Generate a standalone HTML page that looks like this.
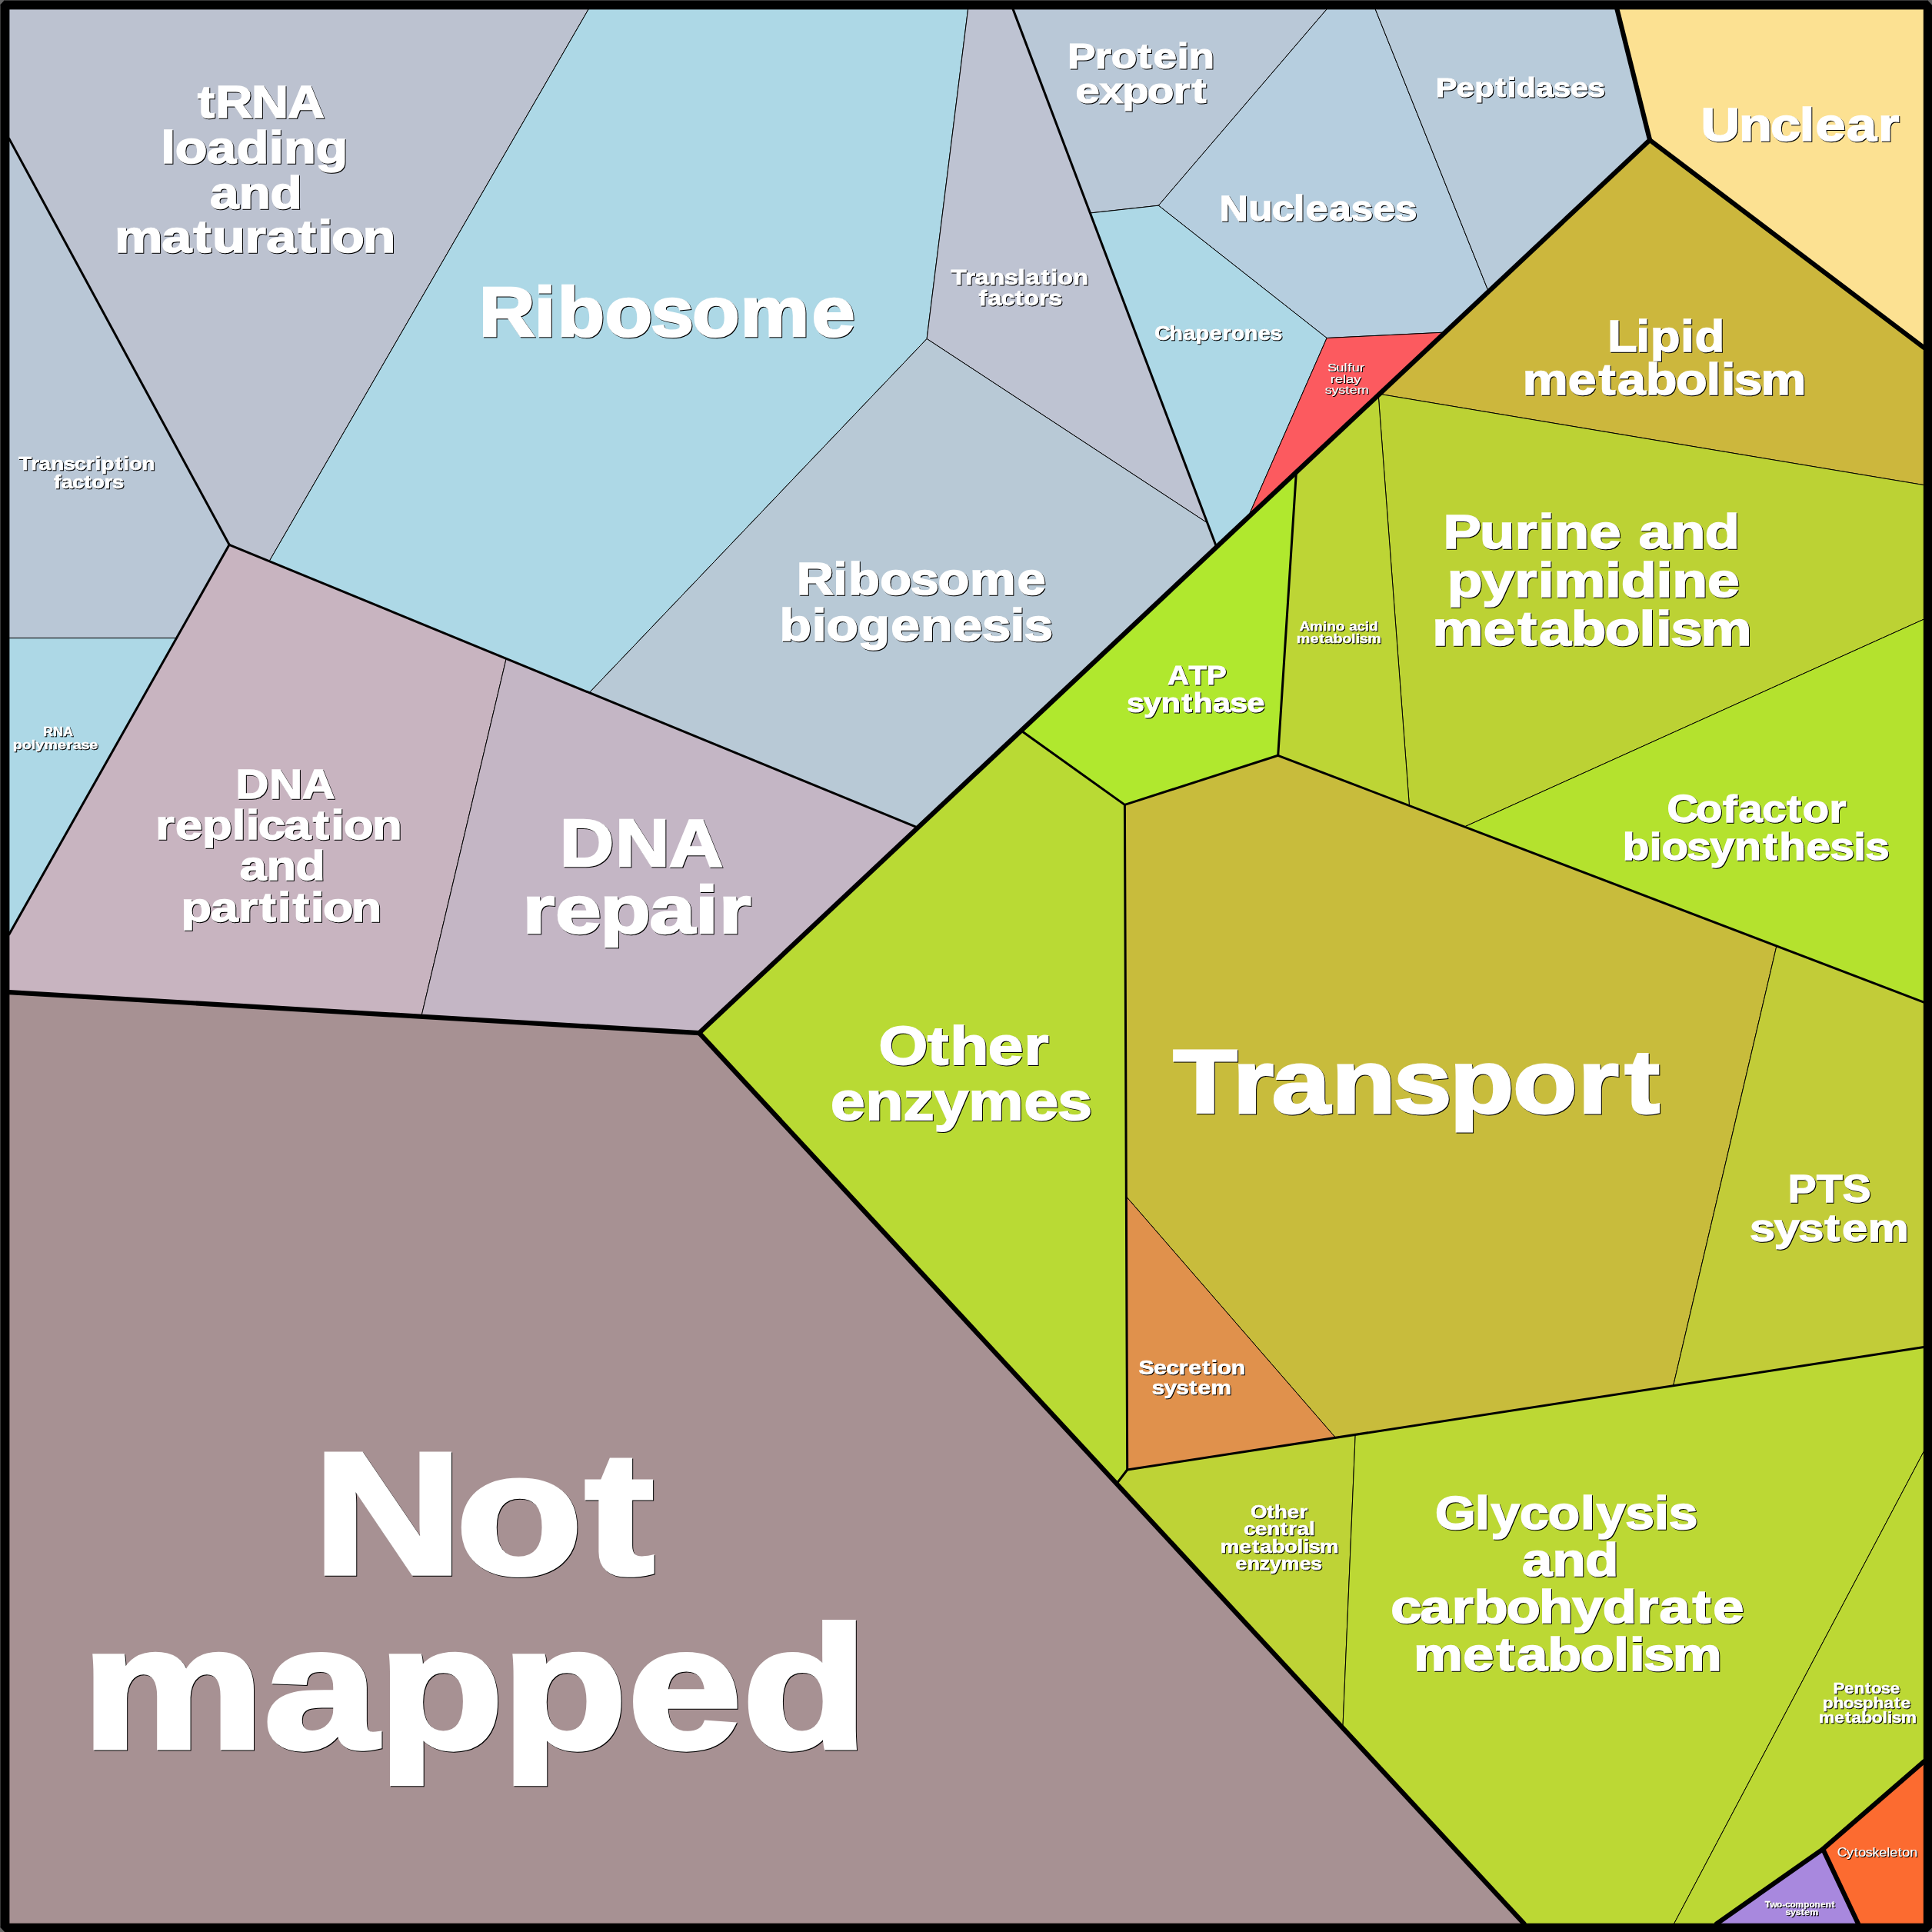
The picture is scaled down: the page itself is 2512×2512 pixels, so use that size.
<!DOCTYPE html>
<html><head><meta charset="utf-8"><title>Proteomap</title>
<style>
html,body{margin:0;padding:0;background:#000;}
body{width:2512px;height:2512px;overflow:hidden;}
svg{display:block;}
text{font-family:"Liberation Sans",sans-serif;font-weight:bold;fill:#fff;stroke:#fff;vector-effect:non-scaling-stroke;stroke-linejoin:miter;}
.cells polygon{stroke:#000;stroke-width:1.00;stroke-linejoin:round;}
.med polyline{fill:none;stroke:#000;stroke-width:3.00;stroke-linecap:round;stroke-linejoin:round;}
.thick polyline{fill:none;stroke:#000;stroke-width:6.20;stroke-linecap:round;stroke-linejoin:round;}
</style></head><body>
<svg width="2512" height="2512" viewBox="0 0 2512 2512">
<rect x="0" y="0" width="2512" height="2512" fill="#000"/>
<g class="cells">
<polygon fill="#BCC2D0" points="11.9,11.9 765.2,11.9 350.1,729.7 298.1,708.3 11.9,180.4"/>
<polygon fill="#B9C7D6" points="11.9,180.4 298.1,708.3 229.6,829.6 11.9,829.6"/>
<polygon fill="#ADD8E6" points="11.9,829.6 229.6,829.6 11.9,1214.8"/>
<polygon fill="#ADD8E6" points="765.2,11.9 1258.6,11.9 1205.1,440.5 766.2,900.7 350.1,729.7"/>
<polygon fill="#BEC3D2" points="1258.6,11.9 1317.1,11.9 1569.9,680.0 1205.1,440.5"/>
<polygon fill="#B8C9D6" points="1205.1,440.5 1569.9,680.0 1581.7,711.3 1193.3,1076.2 766.2,900.7"/>
<polygon fill="#B9C8D7" points="1317.1,11.9 1725.1,11.9 1506.3,267.2 1417.4,277.0"/>
<polygon fill="#B6CEDF" points="1725.1,11.9 1788.2,11.9 1935.4,379.1 1879.0,432.1 1725.1,439.5 1506.3,267.2"/>
<polygon fill="#B8CBDA" points="1788.2,11.9 2102.5,11.9 2145.1,182.1 1935.4,379.1"/>
<polygon fill="#ADD8E6" points="1417.4,277.0 1506.3,267.2 1725.1,439.5 1622.5,673.0 1581.7,711.3"/>
<polygon fill="#FC5A5F" points="1725.1,439.5 1879.0,432.1 1622.5,673.0"/>
<polygon fill="#FCE192" points="2102.5,11.9 2501.3,11.9 2501.3,451.9 2145.1,182.1"/>
<polygon fill="#CCB73D" points="2145.1,182.1 2501.3,451.9 2501.3,630.6 1793.6,512.3"/>
<polygon fill="#BCD234" points="1793.6,512.3 2501.3,630.6 2501.3,805.2 1904.2,1075.0 1832.4,1047.5 1792.2,513.6"/>
<polygon fill="#BDD535" points="1685.4,613.9 1792.2,513.6 1832.4,1047.5 1661.7,982.3"/>
<polygon fill="#B0E82E" points="1685.4,613.9 1661.7,982.3 1462.4,1046.4 1327.7,950.0"/>
<polygon fill="#B4E22E" points="2501.3,805.2 2501.3,1303.1 1904.2,1075.0"/>
<polygon fill="#B9DA34" points="1327.7,950.0 1462.4,1046.4 1465.7,1911.0 1451.8,1929.1 909.2,1343.1"/>
<polygon fill="#C8BC3C" points="1462.4,1046.4 1661.7,982.3 2309.9,1230.0 2175.6,1801.7 1736.5,1869.3 1464.3,1555.7"/>
<polygon fill="#C2CC38" points="2309.9,1230.0 2501.3,1303.1 2501.3,1751.6 2175.6,1801.7"/>
<polygon fill="#E0914C" points="1464.3,1555.7 1736.5,1869.3 1465.7,1911.0"/>
<polygon fill="#BED336" points="1451.8,1929.1 1465.7,1911.0 1762.2,1865.4 1745.9,2246.7"/>
<polygon fill="#BCD834" points="1762.2,1865.4 2501.3,1751.6 2501.3,1887.3 2176.6,2501.2 1981.5,2501.2 1745.9,2246.7"/>
<polygon fill="#BCD834" points="2501.3,1887.3 2501.3,2290.5 2370.2,2404.2 2232.0,2501.2 2176.6,2501.2"/>
<polygon fill="#FC6B30" points="2501.3,2290.5 2501.3,2501.2 2416.0,2501.2 2370.2,2404.2"/>
<polygon fill="#A888DE" points="2370.2,2404.2 2416.0,2501.2 2232.0,2501.2"/>
<polygon fill="#C8B4C0" points="298.1,708.3 658.2,856.3 547.8,1321.8 11.9,1290.1 11.9,1214.8"/>
<polygon fill="#C4B6C5" points="658.2,856.3 1193.3,1076.2 909.2,1343.1 547.8,1321.8"/>
<polygon fill="#A79193" points="11.9,1290.1 909.2,1343.1 1981.5,2501.2 11.9,2501.2"/>
</g>
<g class="med">
<polyline points="11.9,180.4 298.1,708.3"/>
<polyline points="298.1,708.3 1193.3,1076.2"/>
<polyline points="298.1,708.3 11.9,1214.8"/>
<polyline points="1317.1,11.9 1581.7,711.3"/>
<polyline points="1685.4,613.9 1661.7,982.3"/>
<polyline points="1661.7,982.3 2501.3,1303.1"/>
<polyline points="1661.7,982.3 1462.4,1046.4"/>
<polyline points="1462.4,1046.4 1327.7,950.0"/>
<polyline points="1462.4,1046.4 1465.7,1911.0"/>
<polyline points="1465.7,1911.0 1451.8,1929.1"/>
<polyline points="1465.7,1911.0 2501.3,1751.6"/>
</g>
<g class="thick">
<polyline points="11.9,1290.1 909.2,1343.1"/>
<polyline points="909.2,1343.1 2145.1,182.1 2102.5,11.9"/>
<polyline points="2145.1,182.1 2501.3,451.9"/>
<polyline points="909.2,1343.1 1981.5,2501.2"/>
<polyline points="2501.3,2290.5 2370.2,2404.2 2232.0,2501.2"/>
<polyline points="2370.2,2404.2 2416.0,2501.2"/>
</g>
<path fill="#000" fill-rule="evenodd" d="M0 0H2512 V2512 H0Z M11.9 11.9 V2501.2 H2501.3 V11.9Z"/>
<path fill="#666" d="M0 0H6L0 6.5Z M2512 0h-6l6 6.5Z M0 2512h6l-6 -6.5Z M2512 2512h-5.5l5.5 -5.5Z"/>
<path fill="#383838" d="M6 0H2506V1H6Z M0 6.5H1V2505.5H0Z"/>
<g style="filter:drop-shadow(1.2px 1.2px 0 #000)">
<text transform="scale(1.1289,1)" x="227.62 248.31 289.70 331.20" y="153.5" font-size="58.9" style="stroke-width:1.74">tRNA</text>
<text transform="scale(1.1617,1)" x="180.10 196.02 231.67 264.82 301.09 317.64 353.33" y="212.1" font-size="58.9" style="stroke-width:1.74">loading</text>
<text transform="scale(1.1443,1)" x="238.63 271.57 307.14" y="270.6" font-size="58.9" style="stroke-width:1.74">and</text>
<text transform="scale(1.1934,1)" x="124.82 176.16 210.62 231.21 266.89 290.22 324.68 346.16 361.25 395.09" y="328.4" font-size="58.9" style="stroke-width:1.74">maturation</text>
<text transform="scale(1.1353,1)" x="21.47 35.37 44.45 58.36 72.77 85.26 98.71 108.85 115.92 131.85 141.15 147.92 162.62" y="611.4" font-size="24.4" style="stroke-width:0.72">Transcription</text>
<text transform="scale(1.1188,1)" x="62.54 71.23 84.25 97.98 106.56 121.39 130.54" y="635.5" font-size="24.4" style="stroke-width:0.72">factors</text>
<text transform="scale(1.0509,1)" x="53.47 65.80 78.16" y="957.1" font-size="16.9" style="stroke-width:0.50">RNA</text>
<text transform="scale(1.1787,1)" x="14.30 24.33 34.49 39.26 48.55 63.65 73.43 80.37 89.45 98.55" y="974.0" font-size="16.9" style="stroke-width:0.50">polymerase</text>
<text transform="scale(1.1111,1)" x="560.46 624.99 652.01 707.89 761.44 810.03 866.24 949.90" y="437.0" font-size="90.9" style="stroke-width:2.69">Ribosome</text>
<text transform="scale(1.1663,1)" x="1060.18 1076.27 1086.77 1102.85 1119.51 1134.86 1143.28 1160.46 1171.21 1179.01 1196.01" y="369.8" font-size="28.3" style="stroke-width:0.84">Translation</text>
<text transform="scale(1.1474,1)" x="1109.12 1119.22 1134.36 1150.32 1160.30 1177.54 1188.17" y="397.3" font-size="28.3" style="stroke-width:0.84">factors</text>
<text transform="scale(1.1371,1)" x="910.79 952.60 970.11 1006.32 1041.03 1072.51 1108.94 1163.15" y="773.4" font-size="58.9" style="stroke-width:1.74">Ribosome</text>
<text transform="scale(1.1513,1)" x="880.36 917.05 933.38 968.99 1005.99 1039.66 1076.56 1108.89 1140.90 1156.51" y="833.5" font-size="58.9" style="stroke-width:1.74">biogenesis</text>
<text transform="scale(1.1879,1)" x="1168.44 1198.53 1216.20 1245.11 1262.28 1288.42 1301.09" y="88.7" font-size="46.2" style="stroke-width:1.36">Protein</text>
<text transform="scale(1.2173,1)" x="1148.79 1174.07 1198.81 1225.61 1253.28 1273.14" y="134.2" font-size="46.2" style="stroke-width:1.36">export</text>
<text transform="scale(1.1319,1)" x="1400.75 1434.00 1461.11 1486.02 1499.90 1526.72 1551.89 1577.13 1602.37" y="287.0" font-size="45.7" style="stroke-width:1.35">Nucleases</text>
<text transform="scale(1.1583,1)" x="1611.59 1635.04 1655.27 1678.40 1691.87 1702.02 1724.15 1743.47 1762.84 1782.21" y="126.1" font-size="35.8" style="stroke-width:1.06">Peptidases</text>
<text transform="scale(1.1193,1)" x="1341.23 1358.53 1374.46 1389.04 1405.05 1420.04 1430.20 1445.57 1461.53 1475.53" y="442.4" font-size="25.4" style="stroke-width:0.75">Chaperones</text>
<text transform="scale(1.2480,1)" x="1382.98 1392.00 1400.34 1404.01 1408.36 1416.75" y="483.5" font-size="14.6" style="stroke-width:0.17;font-weight:normal">Sulfur</text>
<text transform="scale(1.2763,1)" x="1355.25 1360.01 1367.98 1371.21 1379.27" y="497.7" font-size="14.6" style="stroke-width:0.17;font-weight:normal">relay</text>
<text transform="scale(1.2324,1)" x="1397.79 1404.90 1412.01 1419.47 1423.87 1432.01" y="511.8" font-size="14.6" style="stroke-width:0.17;font-weight:normal">system</text>
<text transform="scale(1.1520,1)" x="1919.82 1962.78 1998.33 2031.11 2049.14 2084.28 2119.70" y="182.8" font-size="61.0" style="stroke-width:1.80">Unclear</text>
<text transform="scale(1.1067,1)" x="1888.78 1922.43 1939.06 1974.65 1991.29" y="456.9" font-size="56.9" style="stroke-width:1.68">Lipid</text>
<text transform="scale(1.1628,1)" x="1702.66 1753.35 1787.40 1808.67 1840.43 1874.04 1908.18 1924.61 1939.16 1968.91" y="513.5" font-size="56.9" style="stroke-width:1.68">metabolism</text>
<text transform="scale(1.1653,1)" x="1610.37 1651.00 1690.44 1716.46 1734.24 1773.36 1809.80 1828.47 1864.02 1902.41" y="713.4" font-size="63.5" style="stroke-width:1.88">Purine and</text>
<text transform="scale(1.1836,1)" x="1589.95 1628.06 1663.81 1689.58 1706.99 1763.23 1780.81 1819.53 1837.01 1875.71" y="776.0" font-size="63.5" style="stroke-width:1.88">pyrimidine</text>
<text transform="scale(1.1743,1)" x="1585.82 1642.39 1680.39 1704.13 1739.58 1777.09 1815.20 1833.53 1849.78 1882.98" y="838.6" font-size="63.5" style="stroke-width:1.88">metabolism</text>
<text transform="scale(1.1187,1)" x="1510.48 1522.30 1537.51 1542.40 1552.59 1562.92 1568.03 1577.26 1586.41 1591.33" y="819.6" font-size="16.8" style="stroke-width:0.49">Amino acid</text>
<text transform="scale(1.1770,1)" x="1432.29 1447.23 1457.26 1463.53 1472.89 1482.79 1492.85 1497.69 1501.98 1510.74" y="836.5" font-size="16.8" style="stroke-width:0.49">metabolism</text>
<text transform="scale(1.0839,1)" x="1400.76 1425.96 1447.49" y="890.2" font-size="35.6" style="stroke-width:1.05">ATP</text>
<text transform="scale(1.1595,1)" x="1263.54 1282.40 1302.05 1324.98 1338.04 1359.98 1379.19 1398.45" y="925.9" font-size="35.6" style="stroke-width:1.05">synthase</text>
<text transform="scale(1.1294,1)" x="1919.26 1952.44 1983.37 2001.57 2028.70 2057.18 2075.19 2105.97" y="1069.4" font-size="49.8" style="stroke-width:1.47">Cofactor</text>
<text transform="scale(1.1367,1)" x="1855.97 1886.93 1900.69 1929.51 1956.21 1984.06 2016.45 2035.02 2066.14 2093.41 2120.43 2133.58" y="1118.2" font-size="49.8" style="stroke-width:1.47">biosynthesis</text>
<text transform="scale(1.1228,1)" x="272.90 311.99 349.75" y="1038.5" font-size="52.8" style="stroke-width:1.56">DNA</text>
<text transform="scale(1.2002,1)" x="168.50 189.91 219.20 251.33 266.44 279.71 307.65 338.95 358.50 372.40 403.24" y="1091.4" font-size="52.8" style="stroke-width:1.56">replication</text>
<text transform="scale(1.1833,1)" x="263.45 292.98 324.87" y="1144.1" font-size="52.8" style="stroke-width:1.56">and</text>
<text transform="scale(1.2250,1)" x="192.29 223.57 253.04 275.36 294.43 310.58 329.65 342.95 372.96" y="1197.7" font-size="52.8" style="stroke-width:1.56">partition</text>
<text transform="scale(1.1173,1)" x="651.32 715.96 778.42" y="1126.4" font-size="87.4" style="stroke-width:2.58">DNA</text>
<text transform="scale(1.2307,1)" x="552.03 586.59 634.02 686.10 734.62 759.63" y="1213.5" font-size="87.4" style="stroke-width:2.58">repair</text>
<text transform="scale(1.1786,1)" x="969.42 1023.28 1048.00 1090.08 1129.74" y="1384.4" font-size="69.6" style="stroke-width:2.05">Other</text>
<text transform="scale(1.1522,1)" x="937.45 976.92 1019.29 1054.06 1092.88 1155.67 1193.57" y="1455.6" font-size="69.6" style="stroke-width:2.05">enzymes</text>
<text transform="scale(1.1666,1)" x="1307.62 1374.15 1417.61 1484.15 1553.09 1615.82 1686.37 1758.68 1810.80" y="1446.8" font-size="116.8" style="stroke-width:3.45">Transport</text>
<text transform="scale(1.0861,1)" x="2140.57 2174.73 2205.75" y="1563.2" font-size="50.8" style="stroke-width:1.50">PTS</text>
<text transform="scale(1.1729,1)" x="1939.59 1966.61 1993.63 2022.56 2041.94 2070.76" y="1614.5" font-size="50.8" style="stroke-width:1.50">system</text>
<text transform="scale(1.1750,1)" x="1260.05 1276.69 1290.52 1304.48 1315.08 1330.53 1340.17 1347.10 1362.32" y="1787.1" font-size="25.7" style="stroke-width:0.76">Secretion</text>
<text transform="scale(1.1579,1)" x="1293.42 1307.09 1320.76 1335.40 1345.21 1359.79" y="1813.1" font-size="25.7" style="stroke-width:0.76">system</text>
<text transform="scale(1.1902,1)" x="1366.15 1384.08 1392.31 1406.31 1419.51" y="1973.7" font-size="23.2" style="stroke-width:0.68">Other</text>
<text transform="scale(1.2099,1)" x="1336.57 1348.73 1361.39 1375.99 1384.62 1393.86 1406.81" y="1995.9" font-size="23.2" style="stroke-width:0.68">central</text>
<text transform="scale(1.1912,1)" x="1332.16 1352.80 1366.66 1375.32 1388.25 1401.94 1415.84 1422.53 1428.45 1440.56" y="2018.6" font-size="23.2" style="stroke-width:0.68">metabolism</text>
<text transform="scale(1.1458,1)" x="1402.14 1415.28 1429.38 1440.96 1453.88 1474.78 1487.39" y="2041.4" font-size="23.2" style="stroke-width:0.68">enzymes</text>
<text transform="scale(1.0931,1)" x="1707.08 1754.65 1773.45 1807.77 1841.36 1880.07 1898.87 1933.25 1967.73 1984.97" y="1988.1" font-size="62.0" style="stroke-width:1.83">Glycolysis</text>
<text transform="scale(1.1389,1)" x="1737.74 1772.38 1809.79" y="2048.9" font-size="62.0" style="stroke-width:1.83">and</text>
<text transform="scale(1.1652,1)" x="1551.85 1584.74 1620.22 1644.71 1681.11 1717.40 1754.47 1788.26 1826.50 1851.62 1888.45 1911.53" y="2109.7" font-size="62.0" style="stroke-width:1.83">carbohydrate</text>
<text transform="scale(1.1605,1)" x="1583.91 1639.12 1676.21 1699.38 1733.98 1770.58 1807.78 1825.67 1841.52 1873.93" y="2172.4" font-size="62.0" style="stroke-width:1.83">metabolism</text>
<text transform="scale(1.1505,1)" x="2071.72 2084.40 2095.32 2107.80 2114.70 2125.79 2136.27" y="2201.6" font-size="19.3" style="stroke-width:0.57">Pentose</text>
<text transform="scale(1.1753,1)" x="2016.22 2027.89 2039.33 2050.34 2060.53 2072.20 2084.06 2095.64 2102.94" y="2220.8" font-size="19.3" style="stroke-width:0.57">phosphate</text>
<text transform="scale(1.1830,1)" x="1999.07 2016.26 2027.82 2035.03 2045.81 2057.21 2068.80 2074.37 2079.31 2089.40" y="2239.7" font-size="19.3" style="stroke-width:0.57">metabolism</text>
<text transform="scale(1.0943,1)" x="2182.94 2194.13 2203.10 2208.12 2216.82 2224.82 2232.78 2241.74 2245.50 2255.10 2260.13 2269.18" y="2414.3" font-size="16.4" style="stroke-width:0.19;font-weight:normal">Cytoskeleton</text>
<text transform="scale(1.1263,1)" x="2037.43 2043.35 2051.03 2057.49 2060.89 2066.41 2072.80 2082.24 2088.60 2094.95 2101.55 2107.57 2114.42" y="2480.3" font-size="10.5" style="stroke-width:0.31">Two-component</text>
<text transform="scale(1.1789,1)" x="1969.22 1974.78 1980.35 1986.31 1990.30 1996.24" y="2490.1" font-size="10.5" style="stroke-width:0.31">system</text>
<text transform="scale(1.1933,1)" x="341.25 496.83 637.50" y="2045.8" font-size="225.6" style="stroke-width:6.66">Not</text>
<text transform="scale(1.1784,1)" x="90.41 291.38 417.58 553.85 692.71 819.24" y="2272.4" font-size="225.6" style="stroke-width:6.66">mapped</text>
</g>
</svg>
</body></html>
